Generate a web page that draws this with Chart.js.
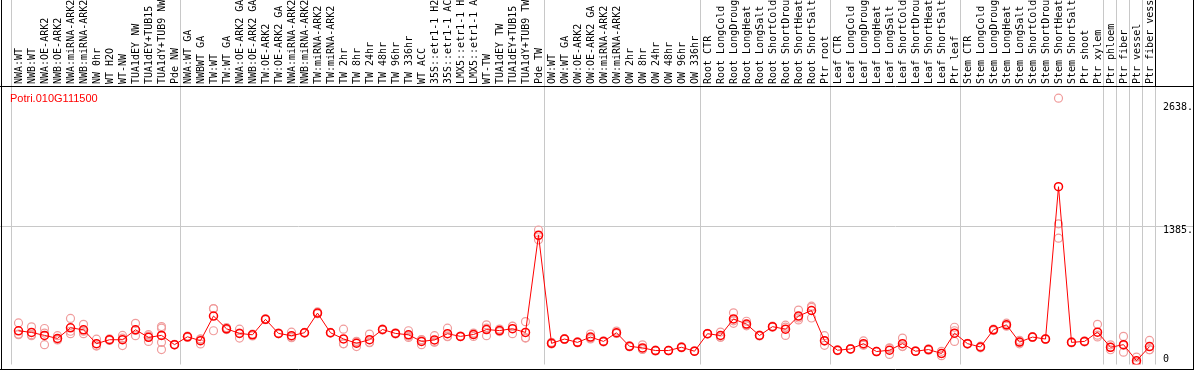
<!DOCTYPE html>
<html>
<head>
<meta charset="utf-8">
<title>Potri.010G111500</title>
<script src="https://cdn.jsdelivr.net/npm/chart.js@4.4.1/dist/chart.umd.min.js"></script>
<style>
  html, body { margin: 0; padding: 0; background: #fff; }
  #wrap { position: relative; width: 1194px; height: 370px; }
</style>
</head>
<body>
<div id="wrap"><canvas id="exprChart"></canvas></div>
<script>
// gene shown in the plot
const geneName = "Potri.010G111500";

// sample names (column headers)
const samples = [
  "NWA:WT", "NWB:WT", "NWA:OE-ARK2", "NWB:OE-ARK2", "NWA:miRNA-ARK2", "NWB:miRNA-ARK2",
  "NW 0hr", "WT H2O", "WT-NW", "TUA1dEY NW", "TUA1dEY+TUB15 NW", "TUA1dY+TUB9 NW", "Pde NW",
  "NWA:WT GA", "NWBWT GA", "TW:WT", "TW:WT GA", "NWA:OE-ARK2 GA", "NWB:OE-ARK2 GA",
  "TW:OE-ARK2", "TW:OE-ARK2 GA", "NWA:miRNA-ARK2 GA", "NWB:miRNA-ARK2 GA", "TW:miRNA-ARK2",
  "TW:miRNA-ARK2 GA", "TW 2hr", "TW 8hr", "TW 24hr", "TW 48hr", "TW 96hr", "TW 336hr", "WT ACC",
  "35S::etr1-1 H2O", "35S::etr1-1 ACC", "LMX5::etr1-1 H2O", "LMX5::etr1-1 ACC", "WT-TW",
  "TUA1dEY TW", "TUA1dEY+TUB15 TW", "TUA1dY+TUB9 TW", "Pde TW",
  "OW:WT", "OW:WT GA", "OW:OE-ARK2", "OW:OE-ARK2 GA", "OW:miRNA-ARK2", "OW:miRNA-ARK2 GA",
  "OW 2hr", "OW 8hr", "OW 24hr", "OW 48hr", "OW 96hr", "OW 336hr",
  "Root CTR", "Root LongCold", "Root LongDrought", "Root LongHeat", "Root LongSalt",
  "Root ShortCold", "Root ShortDrought", "Root ShortHeat", "Root ShortSalt", "Ptr root",
  "Leaf CTR", "Leaf LongCold", "Leaf LongDrought", "Leaf LongHeat", "Leaf LongSalt",
  "Leaf ShortCold", "Leaf ShortDrought", "Leaf ShortHeat", "Leaf ShortSalt", "Ptr leaf",
  "Stem CTR", "Stem LongCold", "Stem LongDrought", "Stem LongHeat", "Stem LongSalt",
  "Stem ShortCold", "Stem ShortDrought", "Stem ShortHeat", "Stem ShortSalt", "Ptr shoot", "Ptr xylem",
  "Ptr phloem", "Ptr fiber", "Ptr vessel", "Ptr fiber vessel"
];

// number of samples in each block, grey lines go between blocks
const groupSizes = [13, 28, 12, 10, 10, 11, 1, 1, 1, 1];

// mean expression
const meanValues = [
  323, 306, 276, 245, 353, 333, 192, 232, 232, 333, 256, 276, 182,
  262, 222, 473, 343, 296, 282, 439, 296, 273, 303, 503, 303, 240, 196, 232, 336, 296,
  282, 215, 230, 293, 266, 285, 335, 325, 344, 306, 1295,
  195, 239, 205, 259, 215, 303, 165, 149, 122, 122, 155, 115,
  293, 275, 443, 391, 275, 365, 339, 473, 529, 222,
  125, 138, 192, 112, 125, 192, 115, 132, 92, 299,
  192, 158, 333, 383, 208, 259, 239, 1788, 205, 215, 309,
  155, 182, 18, 162
];

// single replicates
const rep1 = [
  403, 363, 346, 273, 449, 389, 238, 240, 276, 399, 283, 366, 185,
  270, 189, 549, 355, 339, 290, 445, 296, 309, 303, 515, 303, 339, 162, 289, 340, 296,
  323, 182, 273, 349, 266, 300, 383, 340, 293, 416, 1348,
  205, 239, 205, 290, 215, 320, 165, 180, 122, 122, 155, 115,
  293, 310, 506, 420, 275, 365, 380, 533, 573, 273,
  125, 138, 220, 112, 82, 249, 115, 140, 70, 359,
  192, 158, 333, 400, 190, 259, 239, 2688, 205, 215, 389,
  130, 266, 55, 225
];
const rep2 = [
  283, 273, 182, 229, 293, 293, 168, 225, 172, 273, 215, 349, 180,
  255, 240, 323, 335, 249, 270, 435, 300, 258, 300, 498, 300, 192, 210, 205, 330, 290,
  255, 230, 210, 263, 262, 265, 273, 315, 370, 249, 1248,
  190, 235, 200, 240, 210, 295, 160, 133, 118, 120, 150, 112,
  290, 258, 399, 380, 270, 360, 276, 433, 453, 175,
  120, 135, 180, 110, 150, 165, 112, 125, 114, 215,
  188, 150, 325, 370, 226, 255, 236, 1411, 200, 210, 260,
  180, 105, 0, 130
];
const rep3 = [
  290, 283, 300, 235, 318, 318, 170, 232, 248, 328, 270, 205, 182,
  262, 237, 547, 340, 300, 285, 439, 292, 252, 306, 496, 306, 190, 216, 202, 338, 302,
  268, 233, 207, 267, 270, 283, 350, 320, 369, 253, 1290,
  190, 243, 210, 247, 220, 295, 170, 134, 126, 124, 160, 118,
  296, 257, 424, 373, 280, 370, 361, 453, 561, 218,
  130, 141, 176, 114, 143, 162, 118, 131, 92, 323,
  196, 166, 341, 379, 208, 263, 242, 1265, 210, 220, 278,
  155, 175, 0, 131
];
// a fourth replicate exists for one sample only
const rep4 = samples.map((s, i) => (i === 11 ? 132 : null));

// right axis
const yTickValues = [0, 1385, 2638];
const yTickLabels = ["0", "1385.", "2638."];
const yGridValues = [1385];

const monoFont = '"DejaVu Sans Mono", "Liberation Mono", monospace';

// grey block separators, the 1385 grid line, the frame and the axis text
const framePlugin = {
  id: "frame",
  beforeDatasetsDraw(chart) {
    const { ctx, chartArea, scales } = chart;
    const x = scales.x, y = scales.y;
    ctx.save();
    ctx.strokeStyle = "#c8c8c8";
    ctx.lineWidth = 1;
    let edge = 0;
    const edges = [0];
    groupSizes.forEach(n => { edge += n; edges.push(edge); });
    edges.forEach(e => {
      const px = Math.round(x.getPixelForValue(e - 0.5)) - 0.5;
      ctx.beginPath();
      ctx.moveTo(px, 0);
      ctx.lineTo(px, chartArea.bottom);
      ctx.stroke();
    });
    yGridValues.forEach(v => {
      const py = Math.round(y.getPixelForValue(v)) + 0.5;
      ctx.beginPath();
      ctx.moveTo(0, py);
      ctx.lineTo(chart.width, py);
      ctx.stroke();
    });
    ctx.restore();
  },
  afterDraw(chart) {
    const { ctx, chartArea, scales } = chart;
    const x = scales.x, y = scales.y;
    const w = chart.width, h = chart.height;
    ctx.save();
    ctx.strokeStyle = "#000";
    ctx.lineWidth = 1;
    const top = Math.round(chartArea.top) - 0.5;
    const lastEdge = Math.round(x.getPixelForValue(samples.length - 0.5)) - 0.5;
    ctx.beginPath();
    ctx.moveTo(1.5, 0); ctx.lineTo(1.5, h);
    ctx.moveTo(w - 0.5, 0); ctx.lineTo(w - 0.5, h);
    ctx.moveTo(0, top); ctx.lineTo(w, top);
    ctx.moveTo(0, h - 0.5); ctx.lineTo(w, h - 0.5);
    ctx.moveTo(lastEdge, 0); ctx.lineTo(lastEdge, top);
    ctx.stroke();

    // right axis labels, text top sits on the value
    ctx.font = "10px " + monoFont;
    ctx.fillStyle = "#000";
    ctx.textAlign = "left";
    ctx.textBaseline = "top";
    yTickValues.forEach((v, i) => {
      const py = Math.min(y.getPixelForValue(v) - 1, chartArea.bottom - 10);
      ctx.fillText(yTickLabels[i], chartArea.right + 7, py);
    });

    // gene name
    ctx.font = '11px "Liberation Sans", Arial, sans-serif';
    ctx.fillStyle = "#ff0000";
    ctx.fillText(geneName, 10, chartArea.top + 6);
    ctx.restore();
  }
};

const replicateStyle = {
  type: "line",
  showLine: false,
  pointStyle: "circle",
  pointRadius: 4,
  pointBorderWidth: 1.2,
  pointBorderColor: "#f09c9c",
  pointBackgroundColor: "rgba(0,0,0,0)",
  order: 2
};

new Chart(document.getElementById("exprChart"), {
  type: "line",
  data: {
    labels: samples,
    datasets: [
      {
        label: "mean",
        data: meanValues,
        borderColor: "#ff0000",
        borderWidth: 1,
        tension: 0,
        pointStyle: "circle",
        pointRadius: 4,
        pointBorderWidth: 1.5,
        pointBorderColor: "#ff0000",
        pointBackgroundColor: "rgba(0,0,0,0)",
        order: 1
      },
      Object.assign({ label: "rep1", data: rep1 }, replicateStyle),
      Object.assign({ label: "rep2", data: rep2 }, replicateStyle),
      Object.assign({ label: "rep3", data: rep3 }, replicateStyle),
      Object.assign({ label: "rep4", data: rep4 }, replicateStyle)
    ]
  },
  options: {
    responsive: true,
    maintainAspectRatio: false,
    animation: false,
    layout: { padding: { left: 12, right: 0, top: 0, bottom: 1.5 } },
    plugins: { legend: { display: false }, tooltip: { enabled: false } },
    scales: {
      x: {
        position: "top",
        offset: true,
        afterFit: s => { s.height = 87; },
        grid: { display: false, drawTicks: false },
        border: { display: false },
        ticks: {
          autoSkip: false,
          minRotation: 90,
          maxRotation: 90,
          padding: 3,
          labelOffset: 13,
          color: "#000",
          font: { family: monoFont, size: 10 }
        }
      },
      y: {
        position: "right",
        min: -20,
        max: 2802,
        afterBuildTicks: s => { s.ticks = yTickValues.map(v => ({ value: v })); },
        afterFit: s => { s.width = 38; },
        grid: { display: false },
        border: { display: false },
        ticks: { display: false }
      }
    }
  },
  plugins: [framePlugin]
});
</script>
</body>
</html>
